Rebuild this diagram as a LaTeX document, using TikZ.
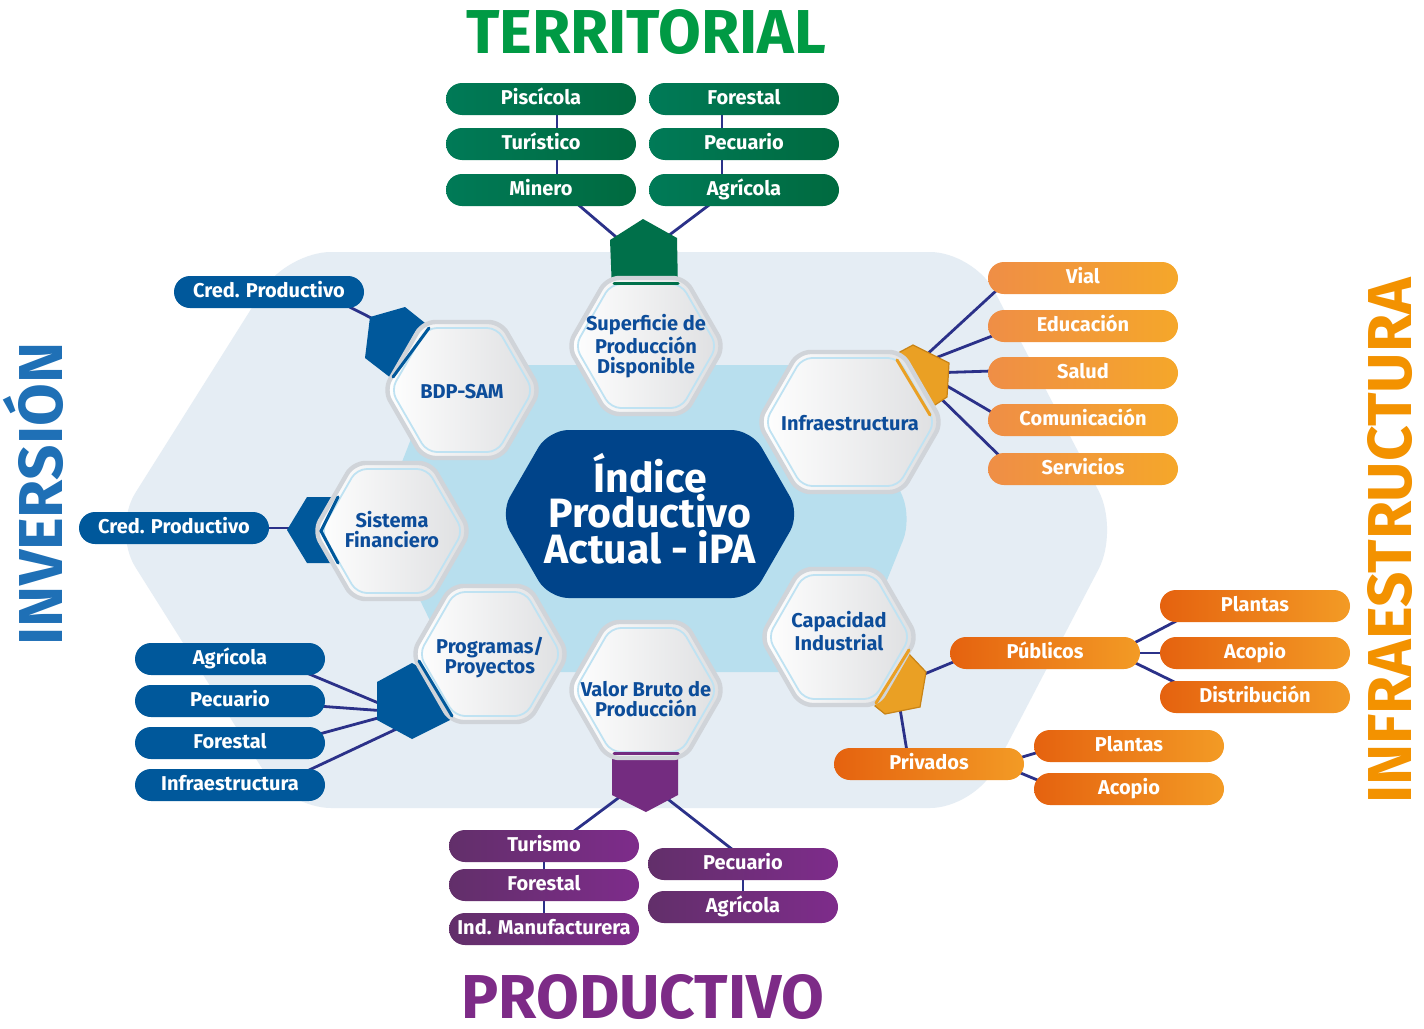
\documentclass[tikz,border=0pt]{standalone}
\usepackage{fontspec}
\setmainfont{Fira Sans}
\usetikzlibrary{calc}
\pgfdeclarelayer{back}
\pgfdeclarelayer{links}
\pgfsetlayers{back,links,main}
\definecolor{connC}{HTML}{2B3189}
\definecolor{bgOut}{HTML}{E5EDF4}
\definecolor{bgIn}{HTML}{B8DFEE}
\definecolor{hexR}{HTML}{DEDFE1}
\definecolor{hexB}{HTML}{D0D4D9}
\definecolor{hexIn}{HTML}{BFE2F2}
\definecolor{hexT}{HTML}{0D4D9A}
\definecolor{ipaB}{HTML}{00448A}
\definecolor{gL}{HTML}{007A57}
\definecolor{gR}{HTML}{006A3F}
\definecolor{oaL}{HTML}{EF8E46}
\definecolor{oaR}{HTML}{F5A72A}
\definecolor{obL}{HTML}{E5620F}
\definecolor{obR}{HTML}{F39B25}
\definecolor{bP}{HTML}{00589B}
\definecolor{pL}{HTML}{622F6A}
\definecolor{pR}{HTML}{7E2C8B}
\definecolor{capG}{HTML}{00704A}
\definecolor{capB}{HTML}{00589B}
\definecolor{capP}{HTML}{742C80}
\definecolor{capO}{HTML}{EAA024}
\definecolor{capOd}{HTML}{C98416}
\definecolor{tG}{HTML}{009A44}
\definecolor{tP}{HTML}{7D2B87}
\definecolor{tB}{HTML}{1F70B6}
\definecolor{tO}{HTML}{F39200}
\newcommand{\hexloop}[5]{%
  \pgfmathsetmacro{\hexd}{0.577*(#5)}%
  \path[#1] (#2,{#3-(#5)}) -- ({#2+(#4)-\hexd},{#3-(#5)}) -- ({#2+(#4)},#3) -- ({#2+(#4)-\hexd},{#3+(#5)}) -- ({#2-(#4)+\hexd},{#3+(#5)}) -- ({#2-(#4)},#3) -- ({#2-(#4)+\hexd},{#3-(#5)}) -- cycle;}
\newcommand{\hexnode}[7]{%
  \hexloop{hexfill}{#2}{#3}{#4}{#5}%
  \hexloop{hexin}{#2}{#3}{#4-7}{#5-6}%
  \node[hextxt] (#1) at (#2,#7) {#6};}
\begin{document}
\begin{tikzpicture}[x=0.5pt,y=-0.5pt,
  pill/.style={rounded corners=8pt, minimum width=95pt, minimum height=16pt, inner sep=0pt, text=white, font=\bfseries\fontsize{10}{12}\selectfont, text height=7pt, text depth=2pt},
  gp/.style={pill, left color=gL, right color=gR},
  oa/.style={pill, left color=oaL, right color=oaR},
  ob/.style={pill, left color=obL, right color=obR},
  bp/.style={pill, fill=bP},
  pp/.style={pill, left color=pL, right color=pR},
  link/.style={draw=connC, line width=1.4pt},
  hexfill/.style={left color=white, right color=hexR, draw=hexB, line width=2.2pt, rounded corners=6pt},
  hexin/.style={draw=hexIn, line width=0.9pt, rounded corners=5pt},
  hextxt/.style={text=hexT, align=center, inner sep=0pt, font=\bfseries\fontsize{10}{10}\selectfont},
  stripe/.style={line width=1.5pt, line cap=round},
  title/.style={font=\bfseries\fontsize{31}{31}\selectfont, inner sep=0pt},
  ipatxt/.style={text=white, inner sep=0pt, font=\bfseries\fontsize{20.5}{21}\selectfont}]
\path[use as bounding box] (0,0) rectangle (1424,1028);
\begin{pgfonlayer}{back}
\fill[white] (0,0) rectangle (1424,1028);
\fill[bgOut, rounded corners=22pt] (640,252) -- (974,252) -- (1119,530) -- (974,808) -- (287,808) -- (112,530) -- (287,252) -- cycle;
\fill[bgIn, rounded corners=12pt] (640,365) -- (845,365) -- (912,518) -- (850,672) -- (455,672) -- (380,518) -- (440,365) -- cycle;
\end{pgfonlayer}

% ---- pills ----
\node[gp] (pisc) at (541,99) {Piscícola};
\node[gp] (forT) at (744,99) {Forestal};
\node[gp] (turi) at (541,144) {Turístico};
\node[gp] (pecT) at (744,144) {Pecuario};
\node[gp] (mine) at (541,190) {Minero};
\node[gp] (agrT) at (744,190) {Agrícola};

\node[oa] (vial) at (1083,278) {Vial};
\node[oa] (educ) at (1083,326) {Educación};
\node[oa] (salud) at (1083,373) {Salud};
\node[oa] (comu) at (1083,420) {Comunicación};
\node[oa] (serv) at (1083,469) {Servicios};

\node[ob] (publ) at (1045,653) {Públicos};
\node[ob] (plan1) at (1255,606) {Plantas};
\node[ob] (acop1) at (1255,653) {Acopio};
\node[ob] (dist) at (1255,697) {Distribución};
\node[ob] (priv) at (929,764) {Privados};
\node[ob] (plan2) at (1129,746) {Plantas};
\node[ob] (acop2) at (1129,789) {Acopio};

\node[bp] (credT) at (269,292) {Cred. Productivo};
\node[bp] (credL) at (174,528) {Cred. Productivo};
\node[bp] (agrB) at (230,659) {Agrícola};
\node[bp] (pecB) at (230,701) {Pecuario};
\node[bp] (forB) at (230,743) {Forestal};
\node[bp] (infB) at (230,785) {Infraestructura};

\node[pp] (turP) at (544,846) {Turismo};
\node[pp] (forP) at (544,885) {Forestal};
\node[pp] (indP) at (544,929) {Ind. Manufacturera};
\node[pp] (pecP) at (743,864) {Pecuario};
\node[pp] (agrP) at (743,907) {Agrícola};

% ---- cap coordinates ----
\coordinate (gcL) at (622,242);
\coordinate (gcR) at (664,239);
\coordinate (pcL) at (625,793);
\coordinate (pcR) at (660,793);
\coordinate (bcT) at (395,330);
\coordinate (bcS) at (310,528);
\coordinate (bcP1) at (400,712);
\coordinate (bcP2) at (405,725);
\coordinate (ic1) at (922,359);
\coordinate (ic2) at (925,362);
\coordinate (ic3) at (930,373);
\coordinate (ic4) at (930,376);
\coordinate (ic5) at (925,383);
\coordinate (ccP) at (910,680);
\coordinate (ccV) at (897,690);

% ---- connectors ----
\begin{pgfonlayer}{links}
\draw[link] ($(pisc)+(16,0)$) -- ($(turi)+(16,0)$);
\draw[link] ($(turi)+(16,0)$) -- ($(mine)+(16,0)$);
\draw[link] ($(forT)+(-22,0)$) -- ($(pecT)+(-22,0)$);
\draw[link] ($(pecT)+(-22,0)$) -- ($(agrT)+(-22,0)$);
\draw[link] ($(mine)+(20,0)$) -- (gcL);
\draw[link] ($(agrT)+(-15,0)$) -- (gcR);
\draw[link] (turP) -- (forP);
\draw[link] (forP) -- (indP);
\draw[link] (pecP) -- (agrP);
\draw[link] ($(turP)+(10,0)$) -- (pcL);
\draw[link] ($(pecP)+(8,0)$) -- (pcR);
\draw[link] ($(credT)+(51,0)$) -- (bcT);
\draw[link] (credL) -- (bcS);
\draw[link] ($(agrB)+(60,7)$) -- (bcP1);
\draw[link] ($(pecB)+(60,3)$) -- (bcP1);
\draw[link] ($(forB)+(60,-1)$) -- (bcP1);
\draw[link] ($(infB)+(60,-6)$) -- (bcP2);
\draw[link] (ic1) -- ($(vial)+(-73,0)$);
\draw[link] (ic2) -- ($(educ)+(-65,0)$);
\draw[link] (ic3) -- ($(salud)+(-60,-3)$);
\draw[link] (ic4) -- ($(comu)+(-78,0)$);
\draw[link] (ic5) -- ($(serv)+(-70,0)$);
\draw[link] (ccP) -- ($(publ)+(-70,0)$);
\draw[link] (ccV) -- ($(priv)+(-20,0)$);
\draw[link] ($(publ)+(70,0)$) -- ($(plan1)+(-50,0)$);
\draw[link] (publ) -- (acop1);
\draw[link] ($(publ)+(70,0)$) -- ($(dist)+(-50,0)$);
\draw[link] ($(priv)+(70,0)$) -- ($(plan2)+(-70,0)$);
\draw[link] ($(priv)+(70,0)$) -- ($(acop2)+(-70,0)$);
\end{pgfonlayer}

% ---- caps ----
\fill[capG] (612,290) -- (610,240) -- (643,219) -- (677,238) -- (678,290) -- cycle;
\fill[capP] (612,750) -- (612,795) -- (646,812) -- (678,795) -- (678,750) -- cycle;
\fill[capB] (365,358) -- (370,317) -- (405,307) -- (440,335) -- (400,385) -- cycle;
\fill[capB] (287,530) -- (307,497) -- (345,497) -- (345,563) -- (307,563) -- cycle;
\fill[capB] (412,663) -- (450,684) -- (450,720) -- (412,739) -- (377,720) -- (377,682) -- cycle;
\filldraw[fill=capO, draw=capOd, line width=0.6pt] (898,353) -- (913,345) -- (949,363) -- (947,397) -- (932,407) -- (905,380) -- cycle;
\filldraw[fill=capO, draw=capOd, line width=0.6pt] (908,653) -- (926,672) -- (920,707) -- (885,714) -- (875,706) -- (885,680) -- cycle;

% ---- hexagons ----
\hexnode{sup}{646}{346}{78}{68}{Superficie de\\Producción\\Disponible}{346}
\hexnode{bdp}{462}{390}{78}{68}{BDP-SAM}{392}
\hexnode{inf}{850}{422}{92}{70}{Infraestructura}{423}
\hexnode{sis}{392}{531}{78}{68}{Sistema\\Financiero}{530}
\hexnode{cap}{839}{637}{78}{68}{Capacidad\\Industrial}{631}
\hexnode{pro}{490}{654}{78}{68}{Programas/\\Proyectos}{658}
\hexnode{val}{646}{690}{78}{68}{Valor Bruto de\\Producción}{699}

% ---- stripes ----
\draw[stripe, capG] (614,283) -- (678,283);
\draw[stripe, capP] (614,753) -- (678,753);
\draw[stripe, capB] (393,377) -- (429,328);
\draw[stripe, capB] (338,497) -- (321,531) -- (338,563);
\draw[stripe, capB] (419,661) -- (452,716);
\draw[stripe, capO] (897,360) -- (930,415);
\draw[stripe, capO] (909,650) -- (876,703);

% ---- centre ----
\hexloop{fill=ipaB, rounded corners=10pt}{650}{514}{150}{84}
\node[ipatxt, anchor=base] (ipa1) at (650,492) {Índice};
\node[ipatxt, anchor=base] (ipa2) at (650,527) {Productivo};
\node[ipatxt, anchor=base] (ipa3) at (650,563) {Actual - iPA};

% ---- titles ----
\node[title, text=tG, anchor=base] (tterr) at (646,53) {TERRITORIAL};
\node[title, text=tP, anchor=base] (tprod) at (643,1018) {PRODUCTIVO};
\node[title, text=tB, anchor=base, rotate=90] (tinv) at (62,494) {INVERSIÓN};
\node[title, text=tO, anchor=base, rotate=90] (tinf) at (1411,541) {INFRAESTRUCTURA};
\end{tikzpicture}
\end{document}
